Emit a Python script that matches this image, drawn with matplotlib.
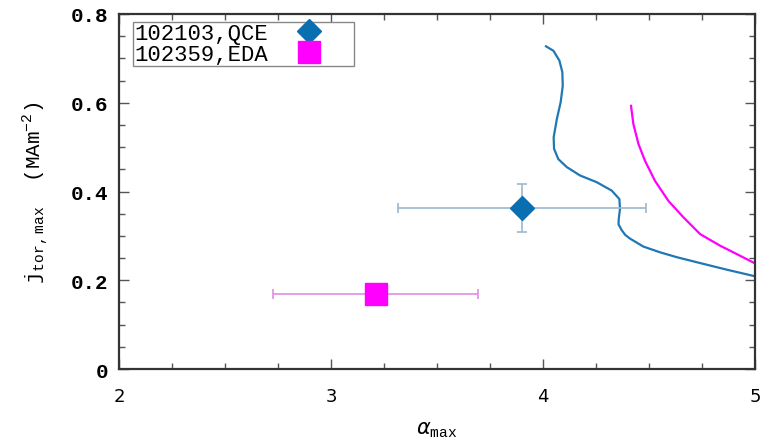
import numpy as np
import matplotlib
matplotlib.use('Agg')
from matplotlib import pyplot as plt

plt.rcParams['path.simplify'] = False

# measured points
qce_alpha, qce_alpha_err = 3.90, 0.585
qce_j, qce_j_err = 0.362, 0.054
eda_alpha, eda_alpha_err = 3.21, 0.485
eda_j = 0.168

# stability boundaries
qce_curve_x = [4.014, 4.049, 4.077, 4.091, 4.093, 4.083, 4.065, 4.050, 4.052, 4.072,
               4.112, 4.175, 4.253, 4.324, 4.360, 4.363, 4.357, 4.356, 4.371, 4.388,
               4.410, 4.473, 4.552, 4.631, 4.756, 4.866, 5.0]
qce_curve_y = [0.727, 0.717, 0.695, 0.669, 0.638, 0.601, 0.563, 0.522, 0.496, 0.473,
               0.455, 0.436, 0.421, 0.402, 0.383, 0.361, 0.338, 0.326, 0.313, 0.302,
               0.294, 0.276, 0.263, 0.252, 0.237, 0.224, 0.209]
eda_curve_x = [4.415, 4.426, 4.450, 4.481, 4.528, 4.591, 4.662, 4.741, 4.835, 4.914,
               4.992, 5.0]
eda_curve_y = [0.593, 0.552, 0.507, 0.469, 0.424, 0.379, 0.342, 0.304, 0.278, 0.259,
               0.240, 0.238]

blue = '#0a6fb0'
pink = '#ff00ff'

fig = plt.figure(figsize=(7.65, 4.39), dpi=100)
ax = fig.add_axes([0.1556, 0.157, 0.8314, 0.809])

ax.plot(qce_curve_x, qce_curve_y, color='#1f78b4', lw=1.6, solid_joinstyle='round')
ax.plot(eda_curve_x, eda_curve_y, color=pink, lw=1.6, solid_joinstyle='round')

ax.errorbar(qce_alpha, qce_j, xerr=qce_alpha_err, yerr=qce_j_err, fmt='none',
            ecolor='#9bb8cc', elinewidth=1.2, capsize=3.5, capthick=1.2)
ax.errorbar(eda_alpha, eda_j, xerr=eda_alpha_err, fmt='none',
            ecolor='#e28ee2', elinewidth=1.2, capsize=3.5, capthick=1.2)
ax.plot(qce_alpha, qce_j, 'D', color=blue, ms=12, mec=blue, label='102103,QCE')
ax.plot(eda_alpha, eda_j, 's', color=pink, ms=16, mec=pink, label='102359,EDA')

ax.set_xlim(2, 5)
ax.set_ylim(0, 0.8)
ax.set_xticks([2, 3, 4, 5])
ax.set_xticks(np.arange(2, 5.01, 0.25), minor=True)
ax.set_yticks([0, 0.2, 0.4, 0.6, 0.8])
ax.set_yticklabels(['0', '0.2', '0.4', '0.6', '0.8'])
ax.set_yticks(np.arange(0, 0.801, 0.05), minor=True)
ax.tick_params(which='both', direction='in', top=True, right=True, color='#555555')
ax.tick_params(which='major', length=7, width=1)
ax.tick_params(which='minor', length=4, width=1)
ax.tick_params(axis='x', pad=13)
ax.tick_params(axis='y', pad=8)
for lab in ax.get_xticklabels():
    lab.set_fontfamily('DejaVu Sans')
    lab.set_fontsize(13)
for lab in ax.get_yticklabels():
    lab.set_fontfamily('Liberation Mono')
    lab.set_fontsize(15)
    lab.set_fontweight('bold')
for s in ax.spines.values():
    s.set_color('#333333')
    s.set_linewidth(1.6)

ax.set_xlabel(r'$\alpha_{\mathregular{max}}$', fontsize=15, family='Liberation Mono', labelpad=10)
ax.set_ylabel(r'j$_{\mathregular{tor,max}}$  (MAm$^{\mathregular{-2}}$)', fontsize=15,
              family='Liberation Mono', labelpad=14)

leg = ax.legend(loc='upper left', bbox_to_anchor=(0.022, 0.5, 0.348, 0.477), mode='expand',
                markerfirst=False, prop={'family': 'Liberation Mono', 'size': 16},
                fancybox=False, edgecolor='#888888', framealpha=1, borderpad=0.05,
                labelspacing=0.0, handlelength=1.5, handletextpad=1.1, borderaxespad=0)
leg.get_frame().set_linewidth(1.0)

fig.savefig('out.png', dpi=100)
